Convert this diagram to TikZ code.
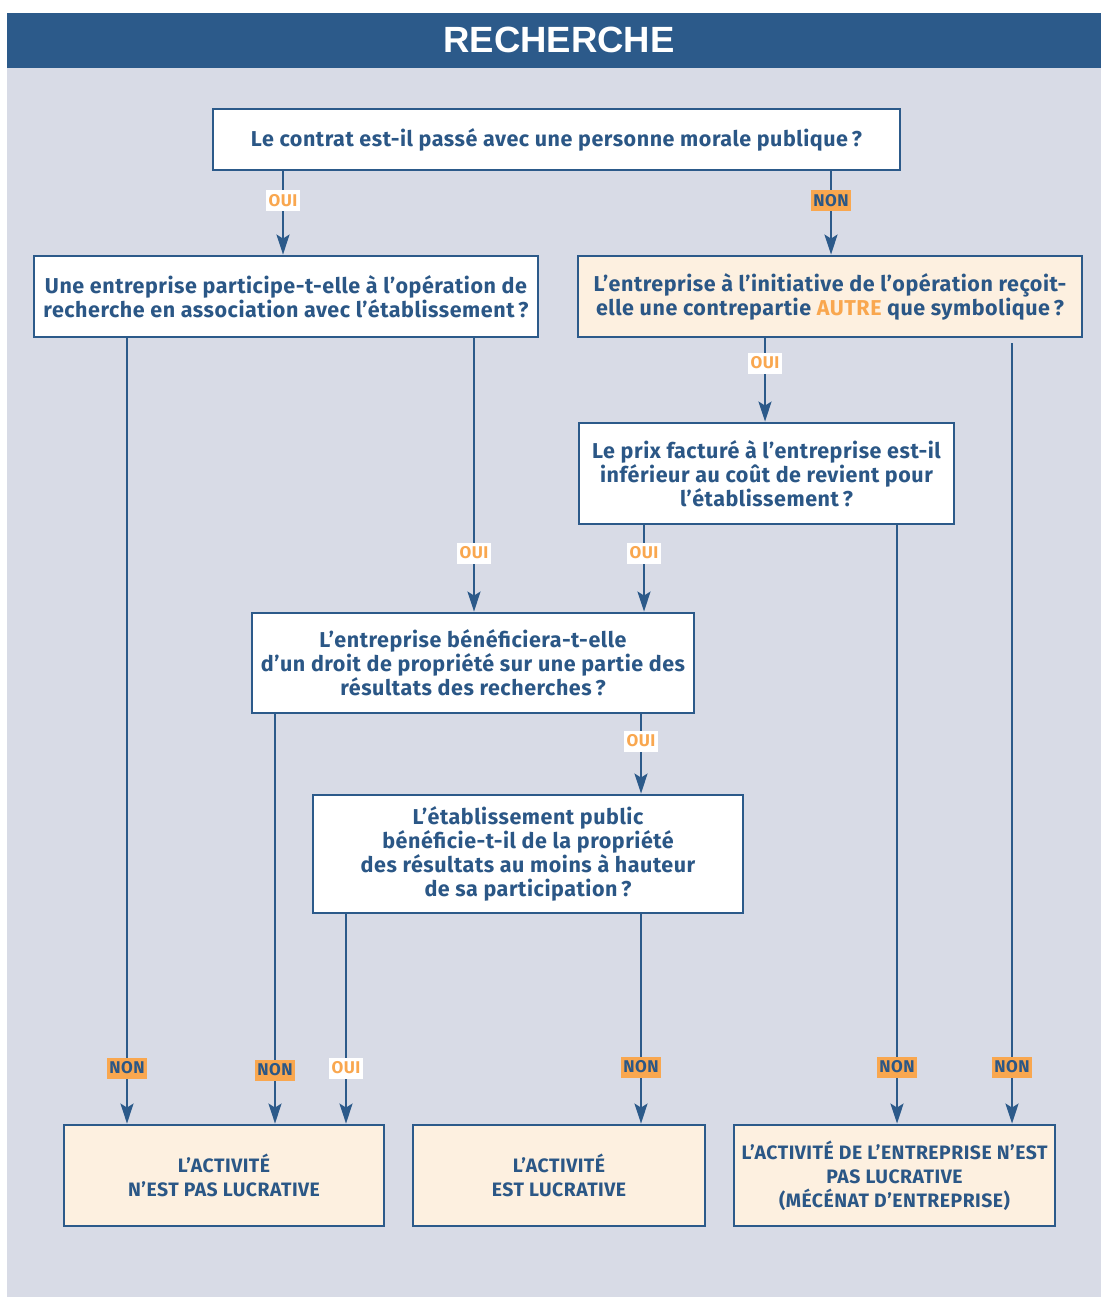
\documentclass[tikz,border=0pt]{standalone}
\usepackage{fontspec}
\setmainfont{Fira Sans}
\newfontfamily\qfont{Fira Sans}[LetterSpace=2.5]
\newfontfamily\headfont{Liberation Sans}
\usetikzlibrary{arrows.meta}
\definecolor{hblue}{HTML}{2C5A8A}
\definecolor{tblue}{HTML}{2B5786}
\definecolor{bggrey}{HTML}{D8DBE6}
\definecolor{cream}{HTML}{FDF0E0}
\definecolor{orng}{HTML}{F9A74F}
\begin{document}
\begin{tikzpicture}[x=1pt,y=-1pt,
  qbox/.style={draw=hblue, line width=2.8pt, fill=white, align=center, text=tblue,
     font=\qfont\fontsize{21.5}{24}\selectfont\bfseries, inner sep=0pt},
  rbox/.style={qbox, fill=cream},
  res/.style={rbox, font=\qfont\fontsize{19.4}{24}\selectfont\bfseries},
  arr/.style={draw=hblue, line width=2.6pt, -{Stealth[length=20pt,width=13pt,inset=4pt]}},
  oui/.style={fill=white, text=orng, font=\qfont\fontsize{17}{17}\selectfont\bfseries,
     inner xsep=2.5pt, inner ysep=0pt, minimum height=21pt},
  non/.style={fill=orng, text=tblue, font=\qfont\fontsize{17}{17}\selectfont\bfseries,
     inner xsep=2.5pt, inner ysep=0pt, minimum height=21pt}
]
\useasboundingbox (0,0) rectangle (1101,1297);
\fill[white] (0,0) rectangle (1101,1297);
\fill[bggrey] (7,13) rectangle (1101,1297);
\fill[hblue] (7,13) rectangle (1101,68);
\node[text=white, font=\headfont\fontsize{36.5}{36}\selectfont\bfseries] (title) at (559,40) {RECHERCHE};

\node[qbox, minimum width=687pt, minimum height=61pt] (Q1) at (556.5,139.5)
  {Le contrat est-il passé avec une personne morale publique\,?};
\node[qbox, minimum width=504pt, minimum height=81pt] (Q2) at (286,296.5)
  {Une entreprise participe-t-elle à l’opération de\\
   recherche en association avec l’établissement\,?};
\node[rbox, minimum width=504pt, minimum height=81pt] (Q3) at (830,296.5)
  {L’entreprise à l’initiative de l’opération reçoit-\\
   elle une contrepartie \textcolor{orng}{AUTRE} que symbolique\,?};
\node[qbox, minimum width=375pt, minimum height=101pt] (Q4) at (766.5,473.5)
  {Le prix facturé à l’entreprise est-il\\inférieur au coût de revient pour\\l’établissement\,?};
\node[qbox, minimum width=442pt, minimum height=100pt] (Q5) at (473,663)
  {L’entreprise bénéficiera-t-elle\\d’un droit de propriété sur une partie des\\résultats des recherches\,?};
\node[qbox, minimum width=430pt, minimum height=118pt] (Q6) at (528,854)
  {L’établissement public\\bénéficie-t-il de la propriété\\des résultats au moins à hauteur\\de sa participation\,?};
\node[res, minimum width=320pt, minimum height=101pt] (R1) at (224,1175.5)
  {L’ACTIVITÉ\\N’EST PAS LUCRATIVE};
\node[res, minimum width=292pt, minimum height=101pt] (R2) at (559,1175.5)
  {L’ACTIVITÉ\\EST LUCRATIVE};
\node[res, minimum width=321pt, minimum height=101pt] (R3) at (894.5,1175.5)
  {L’ACTIVITÉ DE L’ENTREPRISE N’EST\\PAS LUCRATIVE\\(MÉCÉNAT D’ENTREPRISE)};

\draw[arr] (283,0 |- Q1.south) -- (283,201) node[oui]{OUI} -- (283,0 |- Q2.north);
\draw[arr] (831,0 |- Q1.south) -- (831,201) node[non]{NON} -- (831,0 |- Q3.north);
\draw[arr] (127,0 |- Q2.south) -- (127,1068) node[non]{NON} -- (127,0 |- R1.north);
\draw[arr] (474,0 |- Q2.south) -- (474,553) node[oui]{OUI} -- (474,0 |- Q5.north);
\draw[arr] (765,0 |- Q3.south) -- (765,363) node[oui]{OUI} -- (765,0 |- Q4.north);
\draw[arr] ([yshift=-5pt]1012,0 |- Q3.south) -- (1012,1067) node[non]{NON} -- (1012,0 |- R3.north);
\draw[arr] (644,0 |- Q4.south) -- (644,553) node[oui]{OUI} -- (644,0 |- Q5.north);
\draw[arr] (897,0 |- Q4.south) -- (897,1067) node[non]{NON} -- (897,0 |- R3.north);
\draw[arr] (275,0 |- Q5.south) -- (275,1070) node[non]{NON} -- (275,0 |- R1.north);
\draw[arr] (641,0 |- Q5.south) -- (641,741) node[oui]{OUI} -- (641,0 |- Q6.north);
\draw[arr] (346,0 |- Q6.south) -- (346,1068) node[oui]{OUI} -- (346,0 |- R1.north);
\draw[arr] (641,0 |- Q6.south) -- (641,1067) node[non]{NON} -- (641,0 |- R2.north);
\end{tikzpicture}
\end{document}
